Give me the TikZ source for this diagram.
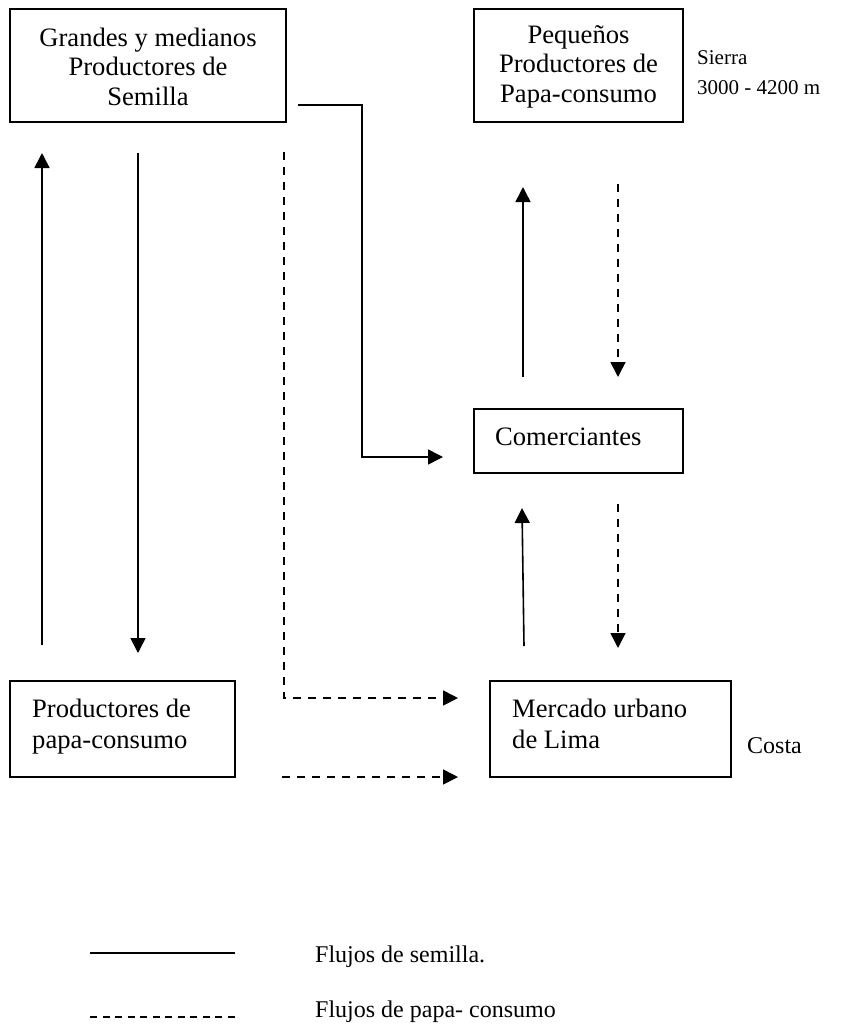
\documentclass[tikz,border=0pt]{standalone}
\usepackage{fontspec}
\setmainfont{Liberation Serif}
\usetikzlibrary{arrows.meta}
\begin{document}
\begin{tikzpicture}[x=1pt,y=-1pt,
  box/.style={draw, line width=1.5pt, inner sep=0pt},
  boxtext/.style={inner sep=0pt, font=\fontsize{26.6}{29.5}\selectfont},
  sidetext/.style={inner sep=0pt, font=\fontsize{21}{30}\selectfont, align=left},
  legtext/.style={inner sep=0pt, font=\fontsize{24}{28}\selectfont},
  flow/.style={line width=1.6pt},
  papa/.style={line width=1.6pt, dash pattern=on 8pt off 7pt},
  tip/.style={-{Triangle[length=15pt,width=15pt]}}
]
\useasboundingbox (0,0) rectangle (846,1034);
\fill[white] (0,0) rectangle (846,1034);

% boxes
\node[box, minimum width=276pt, minimum height=113pt] (g) at (148,65.5) {};
\node[box, minimum width=209pt, minimum height=113pt] (p) at (578.5,65.5) {};
\node[box, minimum width=209pt, minimum height=64pt] (c) at (578.5,441) {};
\node[box, minimum width=225pt, minimum height=96pt] (pc) at (122.5,729) {};
\node[box, minimum width=241pt, minimum height=96pt] (m) at (610.5,729) {};

% box texts
\node[boxtext, align=center, anchor=north] (gt) at (148,26)
  {\rule{0pt}{20pt}Grandes y medianos\\Productores de\\Semilla};
\node[boxtext, align=center, anchor=north] (pt) at (578.5,23)
  {\rule{0pt}{20pt}Pequeños\\Productores de\\Papa-consumo};
\node[boxtext, anchor=base west] (ct) at (495,445) {Comerciantes};
\node[boxtext, font=\fontsize{26.6}{31}\selectfont, align=left, anchor=north west] (pct) at (32,697)
  {\rule{0pt}{20pt}Productores de\\papa-consumo};
\node[boxtext, font=\fontsize{26.6}{31}\selectfont, align=left, anchor=north west] (mt) at (512,697)
  {\rule{0pt}{20pt}Mercado urbano\\de Lima};

% side labels
\node[sidetext, anchor=north west] (sierra) at (697,44) {\rule{0pt}{20pt}Sierra\\3000 - 4200 m};
\node[sidetext, font=\fontsize{24}{28}\selectfont, anchor=base west] (costa) at (747,753) {Costa};

% connector end points
\coordinate (u1a) at (42,645);   \coordinate (u1b) at (42,153);
\coordinate (d1a) at (138,153);  \coordinate (d1b) at (138,653);
\coordinate (e0) at (298,105);   \coordinate (e1) at (362,105);
\coordinate (e2) at (362,457);   \coordinate (e3) at (443,457);
\coordinate (k0) at (284,152);   \coordinate (k1) at (284,698);
\coordinate (k2) at (458,698);
\coordinate (h0) at (282,777);   \coordinate (h1) at (458,777);
\coordinate (u2a) at (523,377);  \coordinate (u2b) at (523,187);
\coordinate (d2a) at (618,184);  \coordinate (d2b) at (618,377);
\coordinate (u3a) at (524,646);  \coordinate (u3b) at (522,508);
\coordinate (d3a) at (618,504);  \coordinate (d3b) at (618,648);

% seed flows (solid)
\draw[flow, tip] (u1a) -- (u1b);
\draw[flow, tip] (d1a) -- (d1b);
\draw[flow, tip] (e0) -- (e1) -- (e2) -- (e3);
\draw[flow, tip] (u2a) -- (u2b);
\draw[flow, tip] (u3a) -- (u3b);

% consumption potato flows (dashed)
\draw[papa, tip] (k0) -- (k1) -- (k2);
\draw[papa, tip] (h0) -- (h1);
\draw[papa, tip] (d2a) -- (d2b);
\draw[papa, tip] (d3a) -- (d3b);

% legend
\coordinate (l1a) at (90,953);  \coordinate (l1b) at (235,953);
\coordinate (l2a) at (90,1017); \coordinate (l2b) at (235,1017);
\draw[flow] (l1a) -- (l1b);
\draw[line width=1.6pt, dash pattern=on 7pt off 5.5pt] (l2a) -- (l2b);
\node[legtext, anchor=base west] (leg1) at (315,962) {Flujos de semilla.};
\node[legtext, anchor=base west] (leg2) at (315,1017) {Flujos de papa- consumo};
\end{tikzpicture}
\end{document}
